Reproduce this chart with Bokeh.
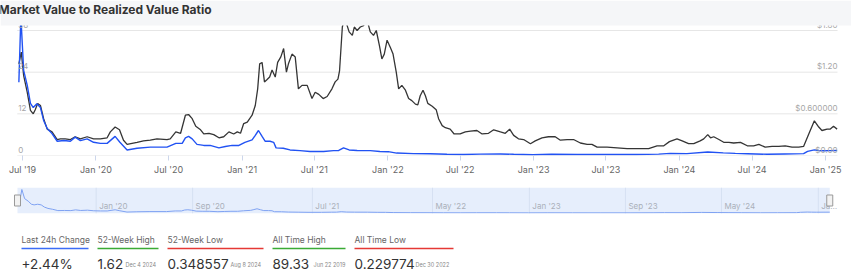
import pandas as pd
from bokeh.plotting import figure
from bokeh.models import Range1d, FixedTicker, DatetimeTickFormatter, BoxAnnotation, Label
from bokeh.layouts import column
from bokeh.core.properties import value
from bokeh.embed import file_html
from bokeh.resources import INLINE

# ---------------- data ----------------
TITLE = "Market Value to Realized Value Ratio"

mvrv_dates = [
    "2019-06-22", "2019-06-27", "2019-07-04", "2019-07-13", "2019-07-21", "2019-07-28",
    "2019-08-06", "2019-08-15", "2019-08-23", "2019-09-01", "2019-09-13", "2019-09-26",
    "2019-10-13", "2019-10-29", "2019-11-10", "2019-11-23", "2019-12-10", "2019-12-26",
    "2020-01-12", "2020-01-29", "2020-02-18", "2020-03-01", "2020-03-19", "2020-04-13",
    "2020-05-16", "2020-06-27", "2020-07-19", "2020-08-04", "2020-08-12", "2020-08-20",
    "2020-08-29", "2020-09-10", "2020-09-27", "2020-10-13", "2020-11-04", "2020-11-20",
    "2020-12-07", "2020-12-24", "2021-01-08", "2021-01-26", "2021-02-03", "2021-02-11",
    "2021-02-20", "2021-02-28", "2021-03-12", "2021-03-21", "2021-03-27", "2021-04-14",
    "2021-05-01", "2021-05-26", "2021-06-20", "2021-07-24", "2021-08-18", "2021-08-31",
    "2021-09-12", "2021-09-26", "2021-10-16", "2021-11-18", "2021-12-12", "2022-01-02",
    "2022-01-23", "2022-03-06", "2022-04-17", "2022-05-29", "2022-07-10", "2022-08-20",
    "2022-10-10", "2022-11-12", "2022-12-30", "2023-02-15", "2023-04-20", "2023-07-01",
    "2023-09-15", "2023-11-10", "2023-12-09", "2024-01-20", "2024-03-12", "2024-04-20",
    "2024-05-20", "2024-06-20", "2024-08-08", "2024-09-20", "2024-11-07", "2024-11-17",
    "2024-12-04", "2024-12-15", "2024-12-28", "2025-01-13", "2025-01-30",
]
mvrv_values = [
    21.1, 40.0, 24.5, 20.2, 15.0, 13.8,
    14.9, 13.8, 10.1, 7.8, 6.3, 4.1,
    4.3, 4.1, 5.3, 4.3, 4.8, 3.8,
    3.5, 3.5, 5.5, 3.8, 1.6, 2.1,
    2.4, 2.4, 3.5, 3.5, 5.1, 5.5,
    4.8, 3.2, 2.9, 2.9, 2.2, 2.6,
    2.9, 2.9, 3.8, 4.5, 5.8, 7.2,
    5.5, 4.1, 4.1, 3.8, 2.2, 2.1,
    1.6, 1.4, 1.15, 1.15, 1.4, 1.45,
    2.2, 1.6, 1.45, 1.4, 1.15, 1.1,
    0.7, 0.55, 0.5, 0.35, 0.3, 0.4,
    0.45, 0.35, 0.229774, 0.35, 0.3, 0.28,
    0.27, 0.4, 0.6, 0.55, 1.0, 0.75,
    0.6, 0.5, 0.348557, 0.45, 0.55, 1.2,
    1.62, 1.45, 1.35, 1.4, 1.45,
]

price_dates = [
    "2019-06-22", "2019-06-28", "2019-07-04", "2019-07-13", "2019-07-21", "2019-07-28",
    "2019-08-02", "2019-08-08", "2019-08-15", "2019-08-23", "2019-09-01", "2019-09-13",
    "2019-09-26", "2019-10-04", "2019-10-16", "2019-10-29", "2019-11-10", "2019-11-23",
    "2019-12-10", "2019-12-26", "2020-01-12", "2020-01-29", "2020-02-06", "2020-02-18",
    "2020-02-29", "2020-03-10", "2020-03-19", "2020-04-13", "2020-04-29", "2020-05-16",
    "2020-06-02", "2020-06-27", "2020-07-05", "2020-07-19", "2020-07-31", "2020-08-12",
    "2020-08-20", "2020-08-29", "2020-09-07", "2020-09-19", "2020-09-27", "2020-10-10",
    "2020-10-22", "2020-11-04", "2020-11-16", "2020-11-29", "2020-12-11", "2020-12-20",
    "2020-12-28", "2021-01-05", "2021-01-14", "2021-01-26", "2021-02-03", "2021-02-09",
    "2021-02-14", "2021-02-20", "2021-02-26", "2021-03-04", "2021-03-11", "2021-03-17",
    "2021-03-25", "2021-03-31", "2021-04-08", "2021-04-15", "2021-04-22", "2021-04-27",
    "2021-05-06", "2021-05-14", "2021-05-22", "2021-05-31", "2021-06-13", "2021-06-25",
    "2021-07-03", "2021-07-12", "2021-07-23", "2021-08-02", "2021-08-14", "2021-08-22",
    "2021-08-29", "2021-09-02", "2021-09-09", "2021-09-15", "2021-09-26", "2021-10-04",
    "2021-10-09", "2021-10-16", "2021-10-24", "2021-11-01", "2021-11-10", "2021-11-18",
    "2021-11-26", "2021-12-03", "2021-12-11", "2021-12-17", "2021-12-23", "2021-12-30",
    "2022-01-07", "2022-01-14", "2022-01-22", "2022-01-28", "2022-02-05", "2022-02-14",
    "2022-02-22", "2022-03-02", "2022-03-11", "2022-03-17", "2022-03-23", "2022-03-30",
    "2022-04-05", "2022-04-11", "2022-04-22", "2022-05-02", "2022-05-08", "2022-05-17",
    "2022-05-25", "2022-06-06", "2022-06-16", "2022-07-01", "2022-07-14", "2022-07-27",
    "2022-08-12", "2022-08-25", "2022-09-10", "2022-09-23", "2022-10-10", "2022-10-22",
    "2022-11-02", "2022-11-12", "2022-11-24", "2022-12-07", "2022-12-24", "2023-01-05",
    "2023-01-22", "2023-02-07", "2023-02-24", "2023-03-09", "2023-03-26", "2023-04-11",
    "2023-04-28", "2023-05-15", "2023-05-27", "2023-06-09", "2023-07-04", "2023-07-29",
    "2023-08-23", "2023-09-25", "2023-10-16", "2023-11-06", "2023-11-23", "2023-12-07",
    "2023-12-26", "2024-01-08", "2024-01-24", "2024-02-06", "2024-02-22", "2024-03-02",
    "2024-03-12", "2024-03-19", "2024-03-27", "2024-04-09", "2024-04-21", "2024-05-04",
    "2024-05-16", "2024-06-02", "2024-06-19", "2024-07-05", "2024-07-18", "2024-08-03",
    "2024-08-20", "2024-09-06", "2024-09-22", "2024-10-09", "2024-10-26", "2024-11-07",
    "2024-11-20", "2024-12-04", "2024-12-15", "2024-12-23", "2025-01-05", "2025-01-13",
    "2025-01-21", "2025-01-30",
]
price_values = [
    1.32, 1.49, 1.15, 0.91, 0.65, 0.60,
    0.66, 0.75, 0.72, 0.53, 0.38, 0.34,
    0.23, 0.24, 0.24, 0.23, 0.27, 0.24,
    0.27, 0.24, 0.24, 0.255, 0.34, 0.41,
    0.37, 0.22, 0.16, 0.19, 0.21, 0.22,
    0.24, 0.23, 0.24, 0.34, 0.32, 0.58,
    0.59, 0.53, 0.42, 0.37, 0.31, 0.32,
    0.30, 0.255, 0.27, 0.34, 0.31, 0.34,
    0.32, 0.46, 0.48, 0.58, 0.72, 0.96,
    1.32, 1.34, 1.06, 1.09, 1.13, 1.23,
    1.13, 1.34, 1.42, 1.54, 1.20, 1.32,
    1.46, 1.42, 0.96, 1.01, 1.01, 0.82,
    0.91, 0.88, 0.82, 0.85, 0.96, 1.06,
    1.10, 1.22, 1.85, 1.98, 1.78, 1.73,
    1.85, 1.80, 1.85, 1.87, 1.95, 1.78,
    1.73, 1.80, 1.58, 1.39, 1.46, 1.66,
    1.56, 1.46, 1.20, 0.96, 1.01, 0.94,
    0.82, 0.79, 0.74, 0.73, 0.86, 0.94,
    0.86, 0.75, 0.71, 0.66, 0.53, 0.43,
    0.40, 0.38, 0.31, 0.31, 0.34, 0.35,
    0.36, 0.31, 0.32, 0.37, 0.34, 0.32,
    0.38, 0.29, 0.24, 0.23, 0.17, 0.21,
    0.255, 0.27, 0.27, 0.22, 0.23, 0.23,
    0.18, 0.16, 0.16, 0.12, 0.12, 0.11,
    0.10, 0.10, 0.10, 0.14, 0.14, 0.20,
    0.24, 0.21, 0.17, 0.17, 0.21, 0.24,
    0.30, 0.255, 0.27, 0.23, 0.19, 0.19,
    0.18, 0.19, 0.14, 0.14, 0.16, 0.12,
    0.13, 0.13, 0.14, 0.12, 0.12, 0.13,
    0.31, 0.50, 0.41, 0.36, 0.38, 0.38,
    0.42, 0.38,
]

xtick_dates = ["2019-07-01", "2020-01-01", "2020-07-01", "2021-01-01", "2021-07-01",
               "2022-01-01", "2022-07-01", "2023-01-01", "2023-07-01", "2024-01-01",
               "2024-07-01", "2025-01-01"]
left_ticks = [0, 12, 24, 36]
left_labels = ["0", "12", "24", "36"]
right_ticks = [0.0, 0.6, 1.2, 1.8]
right_labels = ["$0.00", "$0.600000", "$1.20", "$1.80"]

nav_tick_dates = ["2020-01-01", "2020-09-01", "2021-07-01", "2022-05-01",
                  "2023-01-01", "2023-09-01", "2024-05-01", "2025-01-01"]
nav_tick_labels = ["Jan '20", "Sep '20", "Jul '21", "May '22",
                   "Jan '23", "Sep '23", "May '24", "Ja\u2026"]

stat_labels = ["Last 24h Change", "52-Week High", "52-Week Low", "All Time High", "All Time Low"]
stat_values = ["+2.44%", "1.62", "0.348557", "89.33", "0.229774"]
stat_dates = ["Dec 4 2024", "Aug 8 2024", "Jun 22 2019", "Dec 30 2022"]

# ---------------- layout / style ----------------
W = 851
FONT = "Inter"
BLUE = "#2152f3"
DARK = "#353535"
stat_x = [21, 97, 167, 272, 354]
stat_line_end = [88, 158, 263, 345, 453]
stat_line_colors = ["#3b6cf6", "#3aaa35", "#e53935", "#3aaa35", "#e53935"]
stat_date_x = [125, 230, 313, 415]

mvrv_x = pd.to_datetime(mvrv_dates)
price_x = pd.to_datetime(price_dates)

# ---- main chart ----
MAIN_H = 180
FRAME_H = 155
left_top = 36 * FRAME_H / 125.0
right_top = 1.8 * FRAME_H / 125.0
x_start = pd.Timestamp("2019-05-07")
x_end = pd.Timestamp("2025-03-07")
plot_start = pd.Timestamp("2019-06-18")
plot_end = pd.Timestamp("2025-01-31")


def ypx(px):
    return left_top * (FRAME_H - px) / FRAME_H


p = figure(width=W, height=MAIN_H, x_axis_type="datetime",
           x_range=Range1d(x_start, x_end), y_range=Range1d(0, left_top),
           y_axis_location=None, toolbar_location=None, output_backend="svg",
           min_border_left=0, min_border_right=0, min_border_top=0, min_border_bottom=MAIN_H - FRAME_H)
p.extra_y_ranges = {"price": Range1d(0, right_top)}
p.outline_line_color = None
p.xgrid.visible = False
p.ygrid.visible = False
p.background_fill_color = "white"
p.border_fill_color = "white"

ax = p.xaxis[0]
ax.ticker = FixedTicker(ticks=[pd.Timestamp(d).value / 1e6 for d in xtick_dates])
ax.formatter = DatetimeTickFormatter(days="%b '%y", months="%b '%y", years="%b '%y")
ax.axis_line_color = None
ax.major_tick_line_color = "#ccd6eb"
ax.major_tick_in = 0
ax.major_tick_out = 5
ax.minor_tick_line_color = None
ax.major_label_text_font = FONT
ax.major_label_text_font_size = "9px"
ax.major_label_text_color = "#666666"
ax.major_label_standoff = 3

# grid lines
p.segment(x0=[plot_start] * len(left_ticks), x1=[plot_end] * len(left_ticks),
          y0=left_ticks, y1=left_ticks, line_color="#e6e6e6", line_width=1)

# series
p.line(price_x, price_values, y_range_name="price", line_color=DARK, line_width=1.3)
p.line(mvrv_x, mvrv_values, line_color=BLUE, line_width=1.4)

# inner axis labels
p.text(x=[plot_start] * len(left_ticks), y=left_ticks, text=left_labels, x_offset=1, y_offset=-6,
       text_font=value(FONT), text_font_size="8px", text_color="#a6a6a6",
       text_align="left", text_baseline="alphabetic")
p.text(x=[plot_end] * len(right_ticks), y=right_ticks, text=right_labels, y_range_name="price",
       y_offset=-6, text_font=value(FONT), text_font_size="8px", text_color="#a6a6a6",
       text_align="right", text_baseline="alphabetic")

# header band and title
p.add_layout(BoxAnnotation(bottom=ypx(25), fill_color="#f5f6f8", fill_alpha=1.0, line_color=None))
p.add_layout(Label(x=x_start.value / 1e6, y=ypx(8.5), x_offset=-2, text=TITLE,
                   text_font=FONT, text_font_size="12px", text_font_style="bold",
                   text_color="#333333", text_baseline="alphabetic"))

# ---- navigator ----
NAV_H = 38
nav_y0, nav_y1 = -0.85, 43.4
nav = figure(width=W, height=NAV_H, x_axis_type="datetime",
             x_range=Range1d(pd.Timestamp("2019-05-04"), pd.Timestamp("2025-03-26")),
             y_range=Range1d(nav_y0, nav_y1), x_axis_location=None, y_axis_location=None,
             toolbar_location=None, output_backend="svg",
             min_border_left=0, min_border_right=0, min_border_top=7, min_border_bottom=5)
nav.outline_line_color = None
nav.xgrid.visible = False
nav.ygrid.visible = False
nav_left = pd.Timestamp("2019-06-16")
nav_right = mvrv_x[-1]
nav.quad(left=[nav_left], right=[nav_right], bottom=[nav_y0], top=[nav_y1],
         fill_color="#e6eefc", line_color=None)
ntx = pd.to_datetime(nav_tick_dates)
nav.segment(x0=ntx, x1=ntx, y0=[nav_y0] * len(ntx), y1=[nav_y1] * len(ntx),
            line_color="#d6e0f2", line_width=1)
nav.line(mvrv_x, mvrv_values, line_color="#7fa2f2", line_width=1)
nav.text(x=ntx, y=[nav_y0] * len(ntx), text=nav_tick_labels, x_offset=3, y_offset=-3,
         text_font=value(FONT), text_font_size="8px", text_color="#aab0ba",
         text_align="left", text_baseline="bottom")
nav.rect(x=[nav_left, nav_right], y=[(nav_y0 + nav_y1) / 2] * 2, width=6, height=11,
         width_units="screen", height_units="screen", fill_color="#f2f2f2",
         line_color="#999999", line_width=1)

# ---- stats ----
ST_H = 52
st = figure(width=W, height=ST_H, x_range=Range1d(0, W), y_range=Range1d(270, 270 - ST_H),
            x_axis_location=None, y_axis_location=None, toolbar_location=None,
            output_backend="svg", min_border=0)
st.outline_line_color = None
st.xgrid.visible = False
st.ygrid.visible = False
st.text(x=stat_x, y=[239] * 5, text=stat_labels, text_font=value(FONT), text_font_size="8.5px",
        text_color="#666666", text_baseline="alphabetic")
st.segment(x0=stat_x, x1=stat_line_end, y0=[248] * 5, y1=[248] * 5,
           line_color=stat_line_colors, line_width=1.3)
st.text(x=stat_x, y=[263] * 5, text=stat_values, text_font=value(FONT), text_font_size="13.5px",
        text_color="#333333", text_baseline="alphabetic")
st.text(x=stat_date_x, y=[264] * 4, text=stat_dates, text_font=value(FONT), text_font_size="5.5px",
        text_color="#888888", text_baseline="alphabetic")

layout = column(p, nav, st, spacing=0)
open("out.html", "w").write(file_html(layout, INLINE))
